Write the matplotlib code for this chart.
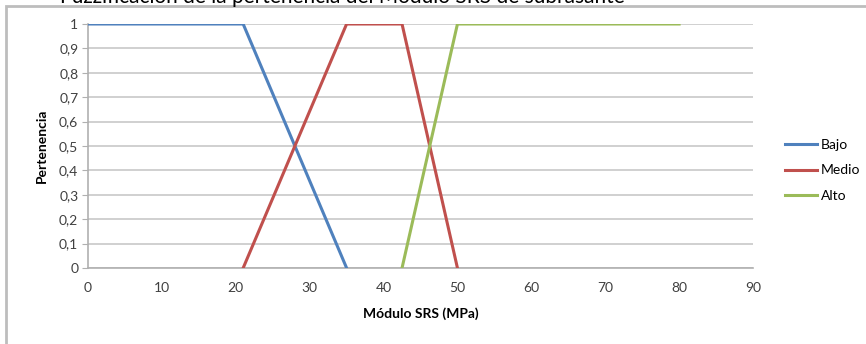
import numpy as np
import matplotlib
matplotlib.use('Agg')
import matplotlib.pyplot as plt
from matplotlib.patches import Rectangle
from matplotlib.ticker import FuncFormatter

plt.rcParams['font.family'] = ['Lato', 'DejaVu Sans']

# funciones de pertenencia del modulo SRS
bajo_x = [0, 21, 35]
bajo_y = [1, 1, 0]
medio_x = [21, 35, 42.5, 50]
medio_y = [0, 1, 1, 0]
alto_x = [42.5, 50, 80]
alto_y = [0, 1, 1]

fig = plt.figure(figsize=(8.66, 3.44), dpi=100)

# marco del grafico
fig.patches.append(Rectangle((6/866, -0.05), 1.0, 1.05 - 6/344, transform=fig.transFigure,
                             fill=False, edgecolor='#bdbdbd', linewidth=2))
fig.text(60/866, 1 - 3/344, u'Fuzzificación de la pertenencia del Módulo SRS de subrasante',
         ha='left', va='baseline', fontsize=15, color='black')

ax = fig.add_axes([88/866, 1 - 268/344, (753 - 88)/866, (268 - 24)/344])

ax.plot(bajo_x, bajo_y, color='#4F81BD', lw=2.2, label='Bajo', zorder=3)
ax.plot(medio_x, medio_y, color='#C0504D', lw=2.2, label='Medio', zorder=3)
ax.plot(alto_x, alto_y, color='#9BBB59', lw=2.2, label='Alto', zorder=3)

ax.set_xlim(0, 90)
ax.set_ylim(0, 1)
ax.set_xticks(np.arange(0, 91, 10))
ax.set_yticks(np.arange(0, 1.01, 0.1))
ax.yaxis.set_major_formatter(FuncFormatter(
    lambda v, p: '%g' % round(v, 1) if round(v, 1) in (0, 1) else ('%.1f' % v).replace('.', ',')))
ax.grid(axis='y', color='#c8c8c8', lw=1.2)
ax.set_axisbelow(True)
for s in ['top', 'right']:
    ax.spines[s].set_visible(False)
for s in ['left', 'bottom']:
    ax.spines[s].set_color('#b0b0b0')
    ax.spines[s].set_linewidth(1.2)
ax.tick_params(axis='x', length=0, pad=10, labelsize=10, colors='#404040')
ax.tick_params(axis='y', length=4, color='#b0b0b0', pad=3, labelsize=10, labelcolor='#404040')

ax.set_xlabel(u'Módulo SRS (MPa)', fontsize=10, fontweight='bold', labelpad=10)
ax.set_ylabel('Pertenencia', fontsize=10, fontweight='bold', labelpad=8)

ax.legend(loc='center left', bbox_to_anchor=(1.03, 0.40), frameon=False, fontsize=10,
          handlelength=2.3, handletextpad=0.25, labelspacing=1.0)

fig.savefig('out.png', dpi=100, facecolor='white')
